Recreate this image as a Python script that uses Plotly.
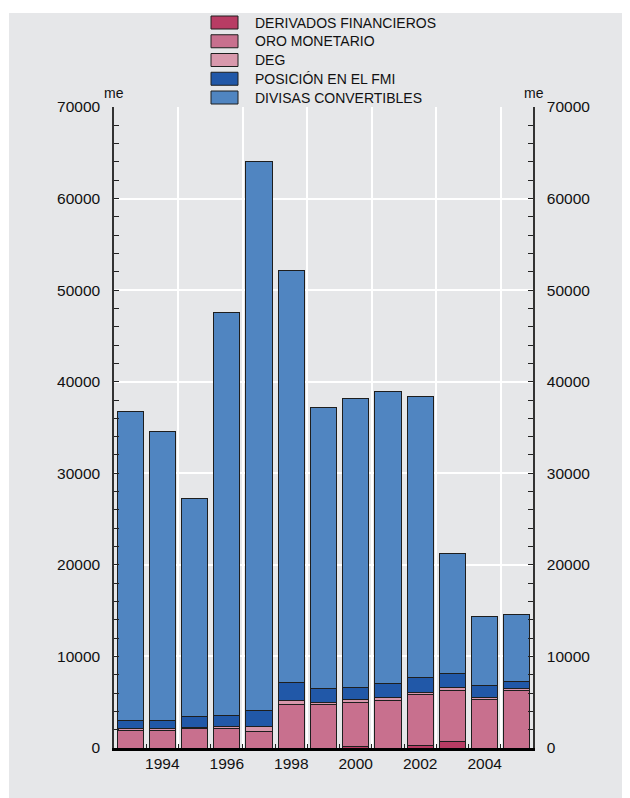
import plotly.graph_objects as go

# ---- data (millones de euros) ----
years = [1993, 1994, 1995, 1996, 1997, 1998, 1999, 2000, 2001, 2002, 2003, 2004, 2005]
derivados = [0, 0, 0, 0, 0, 0, 0, 150, 0, 300, 700, 0, 0]
oro = [1930, 1930, 2100, 2100, 1850, 4730, 4800, 4870, 5170, 5500, 5550, 5350, 6260]
deg = [220, 220, 160, 230, 500, 510, 220, 250, 370, 250, 330, 190, 260]
fmi = [870, 870, 1160, 1240, 1700, 1940, 1500, 1360, 1530, 1680, 1530, 1260, 690]
divisas = [33780, 31580, 23880, 44030, 60050, 44920, 30680, 31570, 31830, 30670, 13090, 7600, 7390]

series_names = ["DERIVADOS FINANCIEROS", "ORO MONETARIO", "DEG",
                "POSICIÓN EN EL FMI", "DIVISAS CONVERTIBLES"]
series_values = [derivados, oro, deg, fmi, divisas]
series_colors = ["#B83C64", "#C8708E", "#D898AC", "#2158A8", "#5085C1"]

x_tick_labels = [1994, 1996, 1998, 2000, 2002, 2004]
y_ticks = [0, 10000, 20000, 30000, 40000, 50000, 60000, 70000]

BG = "#E6E7E9"
FONT = "Liberation Sans, Arial, sans-serif"
OFF = 8                      # page body margin
W, H = 630 - OFF, 798 - OFF
L, R, T, B = 106, 97, 99, 50
PW, PH = W - L - R, H - T - B


def px(xs):
    """screen x pixel -> paper coordinate"""
    return (xs - OFF - L) / PW


def py(ys):
    """screen y pixel -> paper coordinate"""
    return (OFF + H - B - ys) / PH


fig = go.Figure()
for name, vals, col in zip(series_names, series_values, series_colors):
    fig.add_trace(go.Bar(
        x=years, y=vals, name=name,
        marker=dict(color=col, line=dict(color="#1E1E1E", width=1)),
        width=0.81, showlegend=False,
    ))

# invisible helper trace so the overlaid grid / right axis get drawn
fig.add_trace(go.Scatter(x=years, y=[0] * len(years), xaxis="x2", yaxis="y2",
                         mode="markers", marker=dict(opacity=0, size=1),
                         hoverinfo="skip", showlegend=False))

x_range = [years[0] - 0.5, years[-1] + 0.5]
boundaries = [y + 0.5 for y in years[:-1]]
grid_x = [y + 0.5 for y in x_tick_labels]

shapes = []
annotations = []
# thin white page strips (left and top)
shapes.append(dict(type="rect", xref="paper", yref="paper", x0=px(OFF), x1=px(9),
                   y0=py(798), y1=py(OFF), fillcolor="white", line=dict(width=0), layer="below"))
shapes.append(dict(type="rect", xref="paper", yref="paper", x0=px(OFF), x1=px(630),
                   y0=py(13), y1=py(OFF), fillcolor="white", line=dict(width=0), layer="below"))

# manual legend
for i, (name, col) in enumerate(zip(series_names, series_colors)):
    cy = 22.5 + i * 18.75
    shapes.append(dict(type="rect", xref="paper", yref="paper",
                       x0=px(211), x1=px(238), y0=py(cy + 6.5), y1=py(cy - 6.5),
                       fillcolor=col, line=dict(color="#1E1E1E", width=1)))
    annotations.append(dict(xref="paper", yref="paper", x=px(253), y=py(cy),
                            xanchor="left", yanchor="middle", showarrow=False,
                            text=name, font=dict(family=FONT, size=14, color="#111")))

# units
for xx in (114, 534):
    annotations.append(dict(xref="paper", yref="paper", x=px(xx), y=py(93),
                            xanchor="center", yanchor="middle", showarrow=False,
                            text="me", font=dict(family=FONT, size=14, color="#111")))

yaxis_common = dict(
    range=[0, 70000], tickmode="array", tickvals=y_ticks, tickformat="d",
    ticks="inside", ticklen=5, tickcolor="#222", tickwidth=1,
    minor=dict(dtick=2000, tick0=0, ticks="inside", ticklen=5, tickcolor="#222", showgrid=False),
    showline=True, linecolor="#333", linewidth=1.5, zeroline=False,
    tickfont=dict(family=FONT, size=15.5, color="#111"),
    ticklabelstandoff=9, fixedrange=True,
)

fig.update_layout(
    width=W, height=H,
    margin=dict(l=L, r=R, t=T, b=B, autoexpand=False),
    paper_bgcolor=BG, plot_bgcolor=BG,
    barmode="stack", bargap=0.19,
    font=dict(family=FONT, color="#111"),
    shapes=shapes, annotations=annotations,
    xaxis=dict(
        range=x_range, tickmode="array", tickvals=x_tick_labels,
        ticks="", showgrid=False, zeroline=False,
        showline=True, linecolor="#000", linewidth=2.5,
        minor=dict(tickmode="array", tickvals=boundaries, ticks="inside",
                   ticklen=4, tickcolor="#222", showgrid=False),
        tickfont=dict(family=FONT, size=15.5, color="#111"),
        fixedrange=True,
    ),
    xaxis2=dict(
        overlaying="x", anchor="y2", range=x_range, tickmode="array", tickvals=grid_x,
        showgrid=True, gridcolor="white", gridwidth=1.5, showticklabels=False,
        ticks="", showline=False, zeroline=False, fixedrange=True,
    ),
    yaxis=dict(showgrid=True, gridcolor="white", gridwidth=1.5, side="left", **yaxis_common),
    yaxis2=dict(overlaying="y", side="right", anchor="x2", showgrid=False, **yaxis_common),
)

fig.write_html("out.html")
